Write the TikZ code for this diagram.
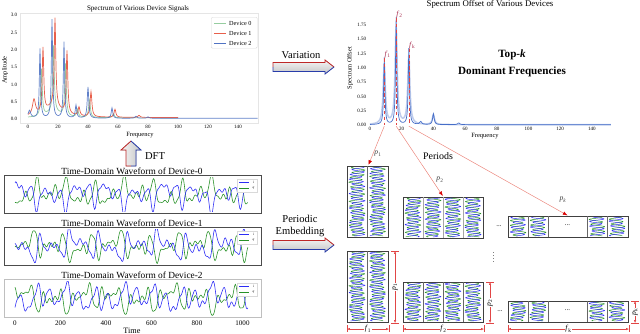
\documentclass[tikz,border=0pt]{standalone}
\usepackage{fontspec}
\setmainfont{Liberation Serif}
\usetikzlibrary{arrows.meta,positioning,calc}
\definecolor{c0}{RGB}{150,205,160}
\definecolor{c1}{RGB}{232,95,75}
\definecolor{c2}{RGB}{80,115,195}
\definecolor{sb}{RGB}{70,110,200}
\definecolor{wblue}{RGB}{45,45,245}
\definecolor{wgreen}{RGB}{40,145,40}
\definecolor{ared}{RGB}{190,40,40}
\definecolor{ablue}{RGB}{40,60,170}
\definecolor{dred}{RGB}{225,70,70}
\definecolor{lred}{RGB}{235,130,120}
\definecolor{fcol}{RGB}{165,40,75}
% one column of a period matrix: left, top, height, phase
\newcommand{\cellwave}[4]{%
  \draw[wg] plot[domain=1:#3, samples=160, variable=\t] ({#1+10+6.5*sin(75*\t+#4+140)+1.5*sin(17*\t+#4)}, {#2+\t});
  \draw[wb] plot[domain=1:#3, samples=160, variable=\t] ({#1+10+6.5*sin(75*\t+#4)+1.5*sin(23*\t+2*#4)}, {#2+\t});
}
\begin{document}
\begin{tikzpicture}[x=0.03cm, y=-0.03cm,
    declare function={lor(\z,\m,\h,\s)=\h/(1+min(abs((\z-\m)/\s),100)^2);},
    ttl/.style={font=\fontsize{6}{7}\selectfont, inner sep=0pt},
    tck/.style={font=\fontsize{4.3}{5}\selectfont, inner sep=0.5pt},
    axl/.style={font=\fontsize{5.5}{6}\selectfont, inner sep=0pt},
    txt/.style={font=\fontsize{9}{10.5}\selectfont, inner sep=0pt, align=center},
    big/.style={font=\fontsize{9.5}{11}\bfseries\selectfont, inner sep=0pt},
    mat/.style={draw=black!75, line width=0.9pt, inner sep=0pt, anchor=north west},
    sep/.style={draw=black!60, line width=0.5pt},
    wb/.style={draw=wblue, line width=0.4pt},
    wg/.style={draw=wgreen, line width=0.4pt},
    dimline/.style={draw=dred, line width=0.4pt, {Latex[length=2.5pt,width=2pt]}-{Latex[length=2.5pt,width=2pt]}},
    dlbl/.style={fill=white, inner sep=0.6pt, font=\fontsize{6.5}{7}\selectfont},
    plbl/.style={font=\fontsize{6.5}{7}\selectfont, inner sep=0pt, text=black!75},
    parr/.style={draw=lred, line width=0.4pt, -{Latex[length=4pt,width=3pt,color=red!85!black]}, shorten >=1pt}
]
\useasboundingbox (0,0) rectangle (640,334);

% spectrum of the devices
\node[ttl] (spttl) at (138,9) {Spectrum of Various Device Signals};
\draw[gray!20] (20,13) rectangle (258,123);
\foreach \v/\l in {0/0.0,0.5/0.5,1/1.0,1.5/1.5,2/2.0,2.5/2.5,3/3.0}
  \node[tck, anchor=east] at (18,{119-34.6*\v}) {\l};
\foreach \f in {0,20,...,140}
  \node[tck, anchor=north] at ({28+1.5*\f},124) {\f};
\node[axl] (spfx) at (140,135) {Frequency};
\node[axl, rotate=90] (spfy) at (5,70) {Amplitude};
\begin{scope}[shift={(28,119)}, x=0.045cm, y=1.038cm]
  \draw[c0, line width=0.6pt] plot[domain=0:100, samples=401] (\x,{0.03+lor(\x,9,1.35,0.6)+lor(\x,17,1.9,0.6)+lor(\x,25,1.5,0.6)+lor(\x,33,0.22,0.7)+lor(\x,41,0.5,0.7)+lor(\x,57,0.12,0.7)+lor(\x,17,0.18,6)});
  \draw[c1, line width=0.6pt] plot[domain=0:100, samples=401] (\x,{0.04+lor(\x,4,0.45,1.2)+lor(\x,10,1.85,0.6)+lor(\x,18,2.55,0.6)+lor(\x,26,1.8,0.6)+lor(\x,34,0.25,0.7)+lor(\x,42,0.72,0.7)+lor(\x,58,0.23,0.7)+lor(\x,74,0.06,0.8)+lor(\x,17,0.32,7)});
  \draw[c2, line width=0.6pt, opacity=0.9] plot[domain=0:153, samples=613] (\x,{0.02+lor(\x,1,0.22,1)+lor(\x,8,2.0,0.5)+lor(\x,16,2.85,0.5)+lor(\x,24,2.2,0.5)+lor(\x,32,0.37,0.6)+lor(\x,40,0.9,0.6)+lor(\x,56,0.3,0.6)+lor(\x,72,0.06,0.8)+lor(\x,80,0.04,0.8)});
\end{scope}
\node[draw=gray!30, fill=white, rounded corners=1pt, minimum width=1.38cm, minimum height=0.93cm, inner sep=0pt, anchor=north west] (lgd) at (211,17) {};
\foreach \i/\c in {0/c0,1/c1,2/c2} {
  \draw[\c, line width=0.7pt] (214,{23+10*\i}) -- (226,{23+10*\i});
  \node[font=\fontsize{5.3}{6}\selectfont, inner sep=0pt, anchor=west] at (229,{23+10*\i}) {Device \i};
}

% spectrum offset
\node[ttl, font=\fontsize{7.5}{8}\selectfont] (sottl) at (490,4) {Spectrum Offset of Various Devices};
\foreach \v/\l in {0/0.00,0.25/0.25,0.5/0.50,0.75/0.75,1/1.00,1.25/1.25,1.5/1.50,1.75/1.75}
  \node[tck, anchor=east] at (367,{125-57.2*\v}) {\l};
\foreach \f in {0,20,...,140}
  \node[tck, anchor=north] at ({370+1.585*\f},126) {\f};
\node[axl] (sofx) at (485,136) {Frequency};
\node[axl, rotate=90] (sofy) at (350,68) {Spectrum Offset};
\begin{scope}[shift={(370,125)}, x=0.04755cm, y=1.716cm]
  \draw[sb!35, line width=1.3pt] plot[domain=0:152, samples=609] (\x,{0.005+lor(\x,9,1.05,0.8)+lor(\x,16.5,1.7,0.8)+lor(\x,24.5,1.2,0.8)+lor(\x,40,0.17,0.8)});
  \draw[sb, line width=0.6pt] plot[domain=0:152, samples=609] (\x,{0.005+lor(\x,9,1.17,0.45)+lor(\x,16.5,1.87,0.45)+lor(\x,24.5,1.33,0.45)+lor(\x,32,0.05,0.8)+lor(\x,40,0.19,0.6)+lor(\x,56,0.03,0.8)});
  \foreach \f/\a/\n in {9/1.17/1, 16.5/1.87/2, 24.5/1.33/k} {
    \draw[dred, densely dashed, line width=0.4pt] (\f,\a) -- (\f,0);
    \node[font=\fontsize{6.5}{7}\selectfont, text=fcol, inner sep=0pt, anchor=south west] at (\f,\a) {\textit{f}\textsubscript{\n}};
  }
  \coordinate (pk1) at (9,-0.02);
  \coordinate (pk2) at (16.5,-0.02);
  \coordinate (pkk) at (24.5,-0.02);
\end{scope}
\node[big] (topk) at (512,55) {Top-\textit{k}};
\node[big] (domf) at (512,72) {Dominant Frequencies};

% block arrows
\fill[top color=gray!8, bottom color=gray!45] (273,62.5) -- (325,62.5) -- (325,60) -- (334,67) -- (325,74) -- (325,71.5) -- (273,71.5) -- cycle;
\draw[ared, line width=0.7pt] (273,67) -- (273,62.5) -- (325,62.5) -- (325,60) -- (334,67);
\draw[ablue, line width=0.7pt] (334,67) -- (325,74) -- (325,71.5) -- (273,71.5) -- (273,67);
\node[txt] (var) at (301,55) {Variation};

\fill[left color=gray!8, right color=gray!45] (126,166) -- (126,150) -- (121,150) -- (131,141) -- (141,150) -- (136,150) -- (136,166) -- cycle;
\draw[ared, line width=0.7pt] (131,166) -- (126,166) -- (126,150) -- (121,150) -- (131,141);
\draw[ablue, line width=0.7pt] (131,141) -- (141,150) -- (136,150) -- (136,166) -- (131,166);
\node[txt] (dft) at (155,156) {DFT};

\fill[top color=gray!8, bottom color=gray!45] (273,240.5) -- (325,240.5) -- (325,238) -- (334,245) -- (325,252) -- (325,249.5) -- (273,249.5) -- cycle;
\draw[ared, line width=0.7pt] (273,245) -- (273,240.5) -- (325,240.5) -- (325,238) -- (334,245);
\draw[ablue, line width=0.7pt] (334,245) -- (325,252) -- (325,249.5) -- (273,249.5) -- (273,245);
\node[txt] (pemb) at (300,226) {Periodic\\Embedding};

% waveforms of the devices
\foreach \k/\yt/\bc in {0/175/black!70, 1/227/black!70, 2/279/black!25} {
  \node[draw=\bc, line width=0.8pt, minimum width=7.71cm, minimum height=1.14cm, inner sep=0pt, anchor=north west] (wave\k) at (4,\yt) {};
  \node[font=\fontsize{8}{9}\selectfont, inner sep=0pt] (wttl\k) at (132,\yt-4) {Time-Domain Waveform of Device-\k};
  \begin{scope}
    \clip (5,\yt+2) rectangle (260,\yt+36);
    \begin{scope}[shift={(15,\yt+19)}, x=0.006825cm, y=0.34cm]
      \draw[wg, line width=0.5pt] plot[domain=0:1024, samples=320] (\x,{0.45*sin(2.8125*\x+200+\k*60)+0.55*sin(5.625*\x+250+\k*90)+0.4*sin(8.4375*\x+10+\k*70)+0.2*sin(14.0625*\x+130)+0.3*sin(1.05*\x+270+\k*80)+0.1*sin(12.3*\x+\k*30)});
      \draw[wb, line width=0.5pt] plot[domain=0:1024, samples=320] (\x,{0.45*sin(2.8125*\x+20+\k*60)+0.6*sin(5.625*\x+70+\k*110)+0.4*sin(8.4375*\x+200+\k*45)+0.2*sin(14.0625*\x+30)+0.3*sin(1.05*\x+90+\k*80)+0.1*sin(11.1*\x)});
    \end{scope}
  \end{scope}
  \node[draw=gray!30, fill=white, minimum width=0.6cm, minimum height=0.38cm, inner sep=0pt, anchor=north west] (wlg\k) at (237,\yt+4) {};
  \draw[wblue, line width=0.6pt] (239,\yt+7) -- (249,\yt+7);
  \draw[wgreen, line width=0.6pt] (239,\yt+13) -- (249,\yt+13);
  \node[font=\fontsize{3}{3}\selectfont, inner sep=0pt] at (253.5,\yt+7) {\textit{i}};
  \node[font=\fontsize{3}{3}\selectfont, inner sep=0pt] at (253.5,\yt+13) {\textit{q}};
}
\foreach \t in {0,200,...,1000}
  \node[font=\fontsize{6}{7}\selectfont, inner sep=0pt] at ({15+0.2275*\t},323) {\t};
\node[font=\fontsize{7}{8}\selectfont, inner sep=0pt] (tlbl) at (132,331) {Time};

% period matrices
\node[mat, minimum width=1.23cm, minimum height=2.13cm] (m1) at (347,166) {};
\node[mat, minimum width=2.4cm, minimum height=1.23cm] (m2) at (403,197) {};
\node[mat, minimum width=3.6cm, minimum height=0.63cm] (mk) at (508,216) {};
\node[mat, minimum width=1.23cm, minimum height=2.13cm] (n1) at (347,251) {};
\node[mat, minimum width=2.4cm, minimum height=1.2cm] (n2) at (403,282) {};
\node[mat, minimum width=3.6cm, minimum height=0.63cm] (nk) at (508,301) {};
\foreach \i in {0,1} {
  \cellwave{347+20.5*\i}{166}{70}{\i*70}
  \cellwave{347+20.5*\i}{251}{70}{\i*70+35}
}
\foreach \i in {0,...,3} {
  \cellwave{403+20*\i}{197}{40}{\i*50}
  \cellwave{403+20*\i}{282}{39}{\i*50+20}
}
\foreach \xl in {508,528,587,607} {
  \cellwave{\xl}{216}{20}{\xl}
  \cellwave{\xl}{301}{20}{\xl*2}
}
\draw[sep] (367.5,166) -- (367.5,237);
\draw[sep] (367.5,251) -- (367.5,322);
\foreach \xs in {423,443,463} {
  \draw[sep, draw=black!35] (\xs,197) -- (\xs,238);
  \draw[sep] (\xs,282) -- (\xs,322);
}
\foreach \xs in {528,548,587,607} {
  \draw[sep] (\xs,216) -- (\xs,237);
  \draw[sep] (\xs,301) -- (\xs,322);
}
\node[font=\fontsize{6}{7}\selectfont, inner sep=0pt] (dk1) at (567.5,225) {...};
\node[font=\fontsize{6}{7}\selectfont, inner sep=0pt] (dk2) at (567.5,310) {...};
\node[font=\fontsize{6}{7}\selectfont, inner sep=0pt] (dr1) at (499,226) {...};
\node[font=\fontsize{6}{7}\selectfont, inner sep=0pt] (dr2) at (500,311) {...};
\draw[black!50, dotted, line width=0.6pt] (493,252) -- (493,264);

% periods from the top-k frequencies
\draw[parr] (pk1) -- (m1.north);
\draw[parr] (pk2) -- (m2.north);
\draw[parr] (pkk) -- (mk.north);
\node[plbl] (lp1) at (378,154) {\textit{p}\textsubscript{1}};
\node[plbl] (lp2) at (440,180) {\textit{p}\textsubscript{2}};
\node[plbl] (lpk) at (563,200) {\textit{p}\textsubscript{\textit{k}}};
\node[font=\fontsize{8.5}{9}\selectfont, inner sep=0pt] (prd) at (438,156) {Periods};

% sizes of the matrices
\foreach \b/\n in {n1/1, n2/2, nk/k} {
  \draw[dred, line width=0.3pt] ($(\b.north east)+(2,0)$) -- +(8,0);
  \draw[dred, line width=0.3pt] ($(\b.south east)+(2,0)$) -- +(8,0);
  \draw[dimline] ($(\b.north east)+(6,0)$) -- ($(\b.south east)+(6,0)$) node[midway, dlbl, rotate=90] {\textit{p}\textsubscript{\n}};
  \draw[dred, line width=0.3pt] ($(\b.south west)+(0,2)$) -- +(0,7);
  \draw[dred, line width=0.3pt] ($(\b.south east)+(0,2)$) -- +(0,7);
  \draw[dimline] ($(\b.south west)+(0,6)$) -- ($(\b.south east)+(0,6)$) node[midway, dlbl] {\textit{f}\textsubscript{\n}};
}
\end{tikzpicture}
\end{document}
